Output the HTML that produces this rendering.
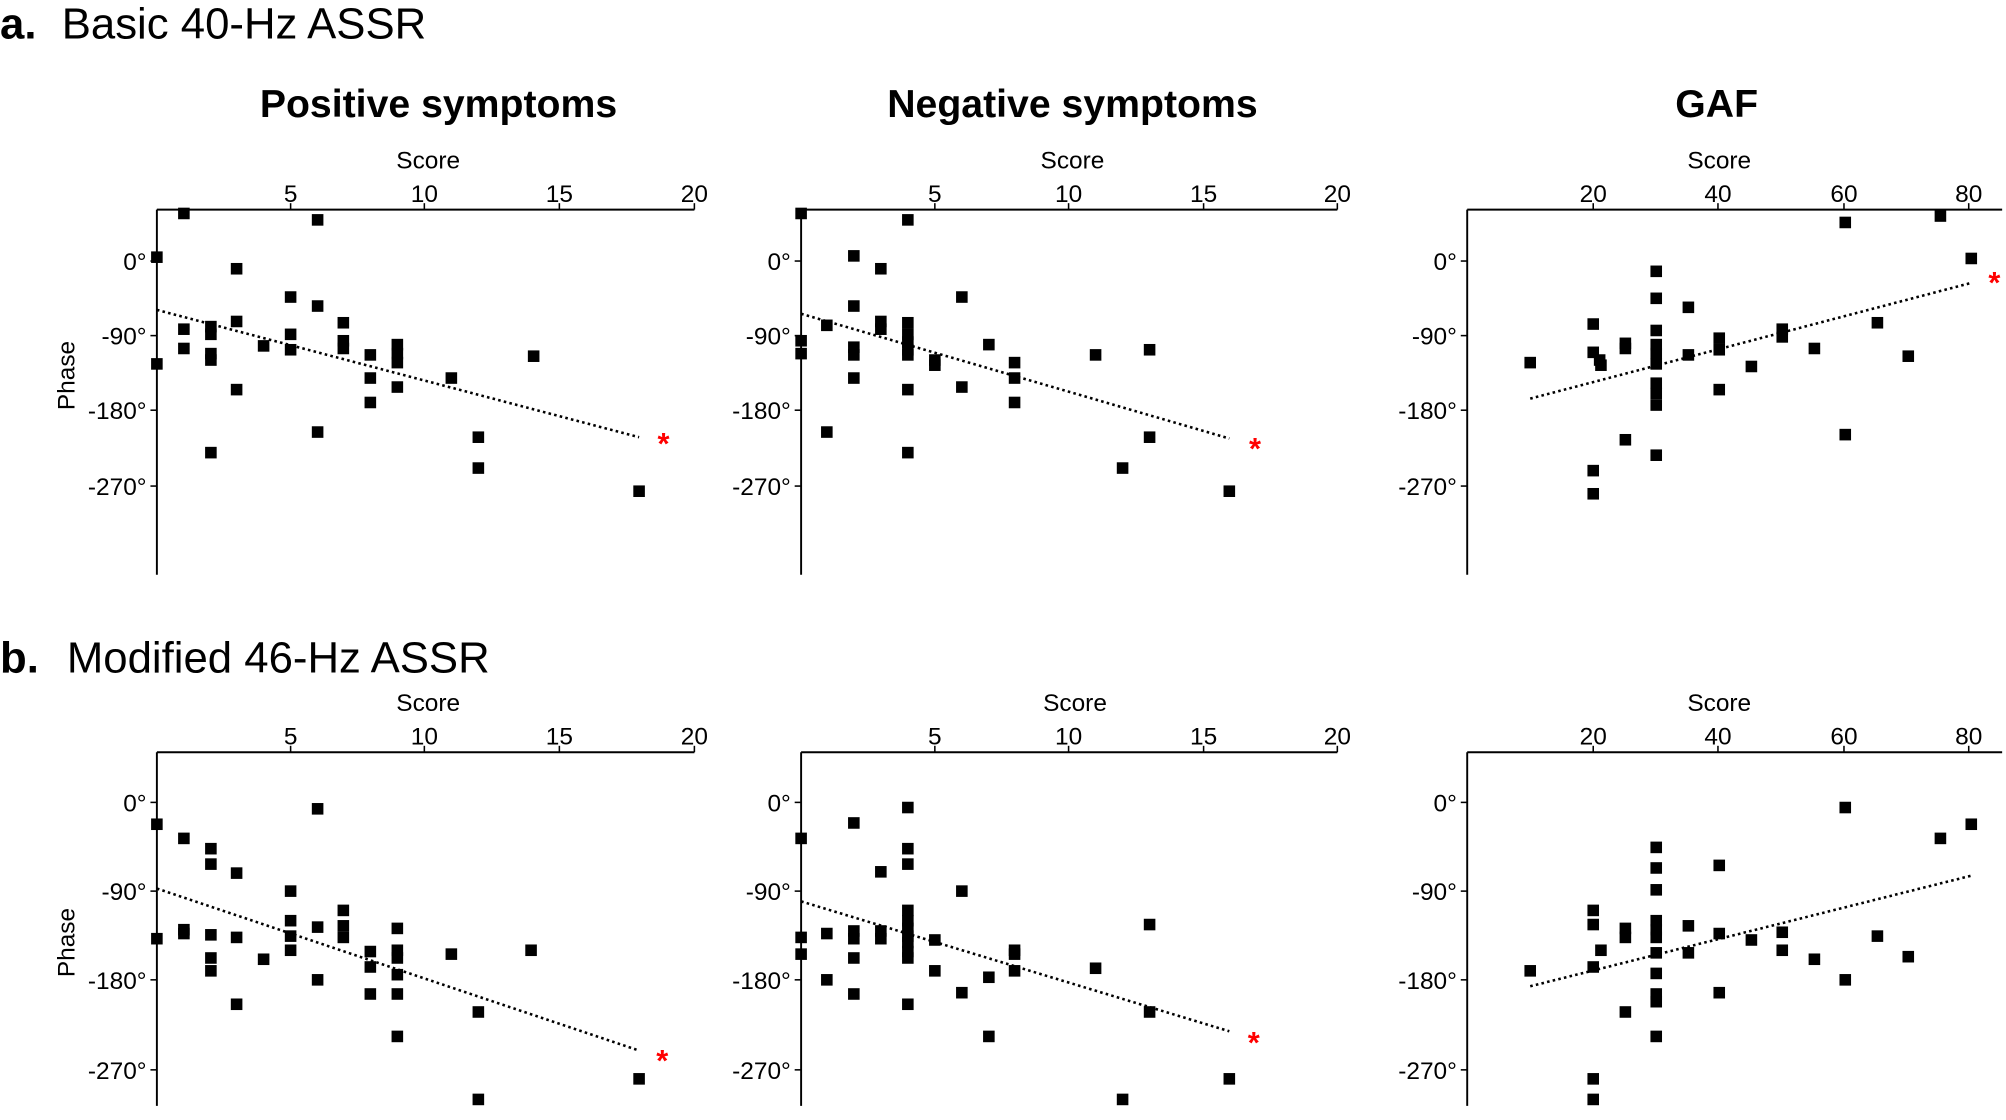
<!DOCTYPE html>
<html><head><meta charset="utf-8"><style>
html,body{margin:0;padding:0;background:#fff;}
svg{display:block;}
text{font-family:"Liberation Sans",Arial,sans-serif;fill:#000;}
</style></head><body>
<svg width="2006" height="1120" viewBox="0 0 1560 871" preserveAspectRatio="none" xmlns="http://www.w3.org/2000/svg">
<g id="all"></g>
</svg>
<script>
const svg=document.getElementById('all');const NS='http://www.w3.org/2000/svg';
function el(t,a,txt){const e=document.createElementNS(NS,t);for(const k in a)e.setAttribute(k,a[k]);if(txt!==undefined)e.textContent=txt;svg.appendChild(e);return e;}
function T(x,y,s,txt,opt){opt=opt||{};const a={x:x,y:y,'font-size':s,'text-anchor':opt.anchor||'start'};if(opt.bold)a['font-weight']='bold';if(opt.rot)a.transform=opt.rot;if(opt.fill)a.style='fill:'+opt.fill;return el('text',a,txt);}
T(0,30,34,'a.',{bold:1});T(48,30,34,'Basic 40-Hz ASSR');
T(0,523,34,'b.',{bold:1});T(52,523,34,'Modified 46-Hz ASSR');
T(341,91,30.5,'Positive symptoms',{anchor:'middle',bold:1});
T(834,91,30.5,'Negative symptoms',{anchor:'middle',bold:1});
T(1335,91,30.5,'GAF',{anchor:'middle',bold:1});
function panel(ax,top,bot,xend,ticks,yt,scoreX,scoreY){
  el('line',{x1:ax,y1:top,x2:ax,y2:bot,stroke:'#000','stroke-width':1.5});
  el('line',{x1:ax,y1:top,x2:xend,y2:top,stroke:'#000','stroke-width':1.5});
  T(scoreX,scoreY,19,'Score',{anchor:'middle'});
  ticks.forEach(([x,l])=>{el('line',{x1:x,y1:top,x2:x,y2:top-5,stroke:'#000','stroke-width':1.2});T(x,top-6,19,l,{anchor:'middle'});});
  const labs=['0°','-90°','-180°','-270°'];
  yt.forEach((y,i)=>{el('line',{x1:ax,y1:y,x2:ax-5,y2:y,stroke:'#000','stroke-width':1.2});T(ax-8,y+7,19,labs[i],{anchor:'end'});});
}
function pts(p){p.forEach(([x,y])=>el('rect',{x:x-4.5,y:y-4.5,width:9,height:9,fill:'#000'}));}
function trend(x1,y1,x2,y2){el('line',{x1:x1,y1:y1,x2:x2,y2:y2,stroke:'#000','stroke-width':2,'stroke-dasharray':'2 2.5'});}
function star(x,y){T(x,y+10,24,'*',{anchor:'middle',fill:'#f00',bold:1});}
const t1=[[226,'5'],[330,'10'],[435,'15'],[540,'20']];
const t2=[[727,'5'],[831,'10'],[936,'15'],[1040,'20']];
const t3=[[1239,'20'],[1336,'40'],[1434,'60'],[1531,'80']];
// row a
panel(122,163,447,540,t1,[203,261,319,378],333,131);
panel(623,163,447,1040,t2,[203,261,319,378],834,131);
panel(1141,163,447,1557,t3,[203,261,319,378],1337,131);
// row b
panel(122,585,860,540,t1,[624,693,762,832],333,553);
panel(623,585,860,1040,t2,[624,693,762,832],836,553);
panel(1141,585,860,1557,t3,[624,693,762,832],1337,553);
T(58,292,19,'Phase',{anchor:'middle',rot:'rotate(-90 58 292)'});
T(58,733,19,'Phase',{anchor:'middle',rot:'rotate(-90 58 733)'});
pts([[143,166],[247,171],[122,200],[184,209],[226,231],[247,238],[122,283],[143,256],[143,271],[164,254],[164,260],[164,275],[164,280],[184,250],[205,269],[226,260],[226,272],[267,251],[267,265],[267,271],[288,276],[288,294],[288,313],[309,268],[309,275],[309,282],[309,301],[351,294],[415,277],[184,303],[164,352],[247,336],[372,340],[372,364],[497,382]]);
trend(122,241,497,340);star(516,343);
pts([[623,166],[706,171],[664,199],[685,209],[748,231],[664,238],[623,265],[623,275],[643,253],[664,270],[664,276],[664,294],[685,250],[685,256],[706,251],[706,260],[706,266],[706,272],[706,276],[727,280],[727,284],[748,301],[769,268],[789,282],[789,294],[789,313],[852,276],[894,272],[706,303],[643,336],[706,352],[894,340],[873,364],[956,382]]);
trend(623,244,956,341);star(976,347);
pts([[1509,168],[1435,173],[1533,201],[1288,211],[1288,232],[1313,239],[1239,252],[1288,257],[1264,267],[1264,271],[1288,268],[1288,275],[1288,283],[1288,298],[1288,306],[1288,315],[1239,274],[1244,280],[1245,284],[1313,276],[1337,263],[1337,272],[1386,256],[1386,262],[1411,271],[1460,251],[1484,277],[1190,282],[1362,285],[1337,303],[1264,342],[1288,354],[1435,338],[1239,366],[1239,384]]);
trend(1190,310,1533,220);star(1551,218);
pts([[122,641],[247,629],[143,652],[164,660],[164,672],[184,679],[226,693],[122,730],[143,723],[143,726],[164,727],[164,745],[164,755],[184,729],[205,746],[226,716],[226,728],[226,739],[247,721],[267,708],[267,720],[267,729],[288,740],[288,752],[288,773],[309,722],[309,739],[309,745],[309,758],[309,773],[309,806],[351,742],[413,739],[184,781],[247,762],[372,787],[372,855],[497,839]]);
trend(122,691,497,817);star(515,823);
pts([[623,652],[706,628],[664,640],[706,660],[706,672],[685,678],[748,693],[623,729],[623,742],[643,726],[664,724],[664,730],[664,745],[685,724],[685,730],[706,708],[706,716],[706,722],[706,728],[706,733],[706,740],[706,745],[727,731],[727,755],[748,772],[769,760],[789,739],[789,742],[789,755],[852,753],[894,719],[643,762],[664,773],[706,781],[769,806],[894,787],[873,855],[956,839]]);
trend(623,701,956,802);star(975,809);
pts([[1435,628],[1533,641],[1509,652],[1337,673],[1288,659],[1288,675],[1288,692],[1288,716],[1288,723],[1288,729],[1288,741],[1288,757],[1288,773],[1288,779],[1288,806],[1239,708],[1239,719],[1245,739],[1264,722],[1264,729],[1313,720],[1313,741],[1337,726],[1362,731],[1386,725],[1386,739],[1411,746],[1460,728],[1484,744],[1190,755],[1239,752],[1264,787],[1337,772],[1435,762],[1239,839],[1239,855]]);
trend(1190,767,1533,681);
</script>
</body></html>
